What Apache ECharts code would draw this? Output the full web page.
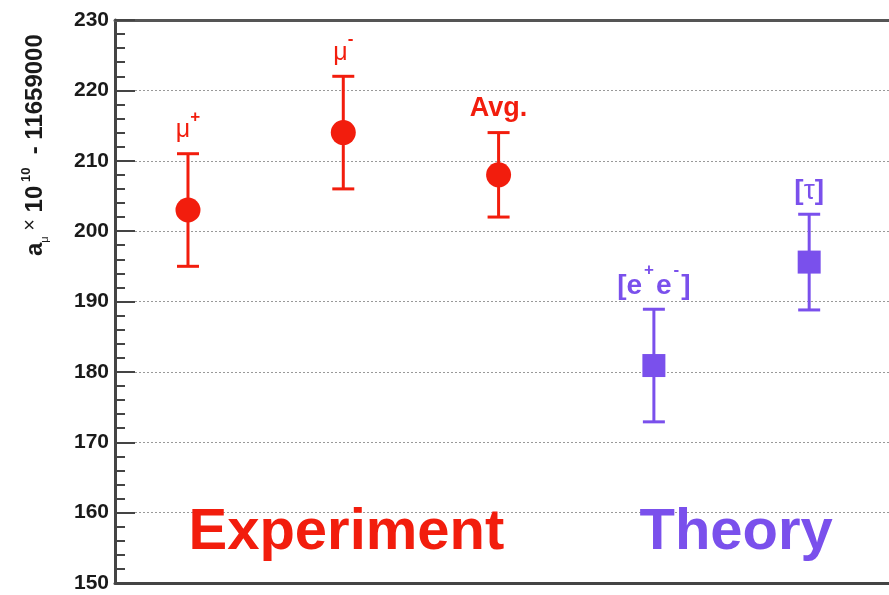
<!DOCTYPE html>
<html>
<head>
<meta charset="utf-8">
<script src="https://cdn.jsdelivr.net/npm/echarts@6/dist/echarts.min.js"></script>
<style>html,body{margin:0;padding:0;background:#fff;}#c{width:889px;height:595px;}</style>
</head>
<body>
<div id="c"></div>
<script>
// ---- data ----
const expLabels = ['{b|μ}{sup|+}', '{b|μ}{sup|-}', '{bb|Avg.}'];
const expX = [1, 2, 3];
const expValue = [203, 214, 208];
const expError = [8, 8, 6];

const thLabels = ['{tb|[e}{tsup|+}{tb|e}{tsup|-}{tb|]}', '{tb|[}{tr|τ}{tb|]}'];
const thX = [4, 5];
const thValue = [180.9, 195.6];
const thError = [8.0, 6.8];

const groupLabels = ['Experiment', 'Theory'];
const groupX = [2.02, 4.53];
const groupY = [157.1, 157.1];

const yTicks = [150, 160, 170, 180, 190, 200, 210, 220, 230];

const RED = '#f21d0d';
const PURPLE = '#7a50ec';

function errData(xs, vs, es) {
  return xs.map((x, i) => [x, vs[i] - es[i], vs[i] + es[i]]);
}
function errSeries(xs, vs, es, color) {
  return {
    type: 'custom',
    data: errData(xs, vs, es),
    encode: { x: 0, y: [1, 2] },
    z: 3,
    renderItem: function (params, api) {
      const x = api.value(0), lo = api.value(1), hi = api.value(2);
      const a = api.coord([x, lo]), b = api.coord([x, hi]);
      const hw = 11;
      const st = { stroke: color, lineWidth: 3 };
      return {
        type: 'group', children: [
          { type: 'line', shape: { x1: a[0], y1: a[1], x2: b[0], y2: b[1] }, style: st },
          { type: 'line', shape: { x1: a[0] - hw, y1: a[1], x2: a[0] + hw, y2: a[1] }, style: st },
          { type: 'line', shape: { x1: b[0] - hw, y1: b[1], x2: b[0] + hw, y2: b[1] }, style: st }
        ]
      };
    }
  };
}
function labelSeries(xs, vs, es, labels, color, dist) {
  const F = 'Liberation Sans';
  return {
    type: 'scatter',
    symbolSize: 0,
    silent: true,
    z: 5,
    itemStyle: { opacity: 1, color: color },
    data: xs.map((x, i) => ({ value: [x, vs[i] + es[i]], lab: labels[i] })),
    label: {
      show: true, position: 'top', distance: dist, opacity: 1,
      formatter: p => p.data.lab,
      rich: {
        b: { fontFamily: F, fontSize: 25, color: color, lineHeight: 34, verticalAlign: 'bottom' },
        bb: { fontFamily: F, fontWeight: 'bold', fontSize: 27, color: color, lineHeight: 34, verticalAlign: 'bottom' },
        sup: { fontFamily: F, fontWeight: 'bold', fontSize: 17, color: color, lineHeight: 34, verticalAlign: 'top' },
        tb: { fontFamily: F, fontWeight: 'bold', fontSize: 28, color: color, lineHeight: 38, verticalAlign: 'bottom' },
        tr: { fontFamily: F, fontSize: 28, color: color, lineHeight: 38, verticalAlign: 'bottom' },
        tsup: { fontFamily: F, fontWeight: 'bold', fontSize: 17, color: color, lineHeight: 38, verticalAlign: 'top', padding: [0, 2, 0, 2] }
      }
    }
  };
}

const chart = echarts.init(document.getElementById('c'));
chart.setOption({
  animation: false,
  backgroundColor: '#fff',
  grid: { left: 115, top: 20, bottom: 12, right: -10 },
  xAxis: [{
    type: 'value', min: 0.53, max: 5.514, position: 'bottom',
    axisLine: { show: true, lineStyle: { color: '#444', width: 3 } },
    axisTick: { show: false }, axisLabel: { show: false }, splitLine: { show: false }
  }, {
    type: 'value', min: 0.53, max: 5.514, position: 'top',
    axisLine: { show: true, lineStyle: { color: '#555', width: 3 } },
    axisTick: { show: false }, axisLabel: { show: false }, splitLine: { show: false }
  }],
  yAxis: {
    type: 'value', min: yTicks[0], max: yTicks[yTicks.length - 1], interval: 10,
    axisLine: { show: true, lineStyle: { color: '#444', width: 3 } },
    axisTick: { show: true, inside: true, length: 20, lineStyle: { color: '#444', width: 2 } },
    minorTick: { show: true, splitNumber: 5, length: 10, lineStyle: { color: '#444', width: 2 } },
    axisLabel: { fontFamily: 'Liberation Sans', fontWeight: 'bold', fontSize: 21, color: '#1a1a1a', margin: 6 },
    splitLine: { show: true, lineStyle: { color: '#999', type: [2, 2], width: 1 } }
  },
  graphic: [{
    type: 'text',
    x: 35, y: 256, rotation: Math.PI / 2,
    style: {
      text: '{a|a}{s|μ}{x| ×}{a| 10}{p| 10}{a|  - 11659000}',
      verticalAlign: 'middle', align: 'left',
      rich: {
        a: { fontFamily: 'Liberation Sans', fontWeight: 'bold', fontSize: 24, fill: '#1a1a1a', lineHeight: 30, verticalAlign: 'middle' },
        s: { fontFamily: 'Liberation Sans', fontSize: 11, fill: '#1a1a1a', lineHeight: 30, verticalAlign: 'bottom' },
        x: { fontFamily: 'Liberation Sans', fontSize: 20, fill: '#1a1a1a', lineHeight: 30, verticalAlign: 'top' },
        p: { fontFamily: 'Liberation Sans', fontWeight: 'bold', fontSize: 13, fill: '#1a1a1a', lineHeight: 30, verticalAlign: 'top' }
      }
    }
  }],
  series: [
    errSeries(expX, expValue, expError, RED),
    errSeries(thX, thValue, thError, PURPLE),
    {
      type: 'scatter', symbol: 'circle', symbolSize: 25, z: 4,
      itemStyle: { color: RED, opacity: 1 },
      data: expX.map((x, i) => [x, expValue[i]])
    },
    {
      type: 'scatter', symbol: 'rect', symbolSize: 23, z: 4,
      itemStyle: { color: PURPLE, opacity: 1 },
      data: thX.map((x, i) => [x, thValue[i]])
    },
    labelSeries(expX, expValue, expError, expLabels, RED, 11),
    labelSeries(thX, thValue, thError, thLabels, PURPLE, 9),
    {
      type: 'scatter', symbolSize: 0, silent: true, z: 5,
      itemStyle: { color: RED, opacity: 1 },
      data: groupX.map((x, i) => ({
        value: [x, groupY[i]], name: groupLabels[i],
        label: { color: i === 0 ? RED : PURPLE }
      })),
      label: {
        show: true, position: 'inside', opacity: 1,
        formatter: p => p.name,
        fontFamily: 'Liberation Sans', fontWeight: 'bold', fontSize: 58
      }
    }
  ]
});
</script>
</body>
</html>
